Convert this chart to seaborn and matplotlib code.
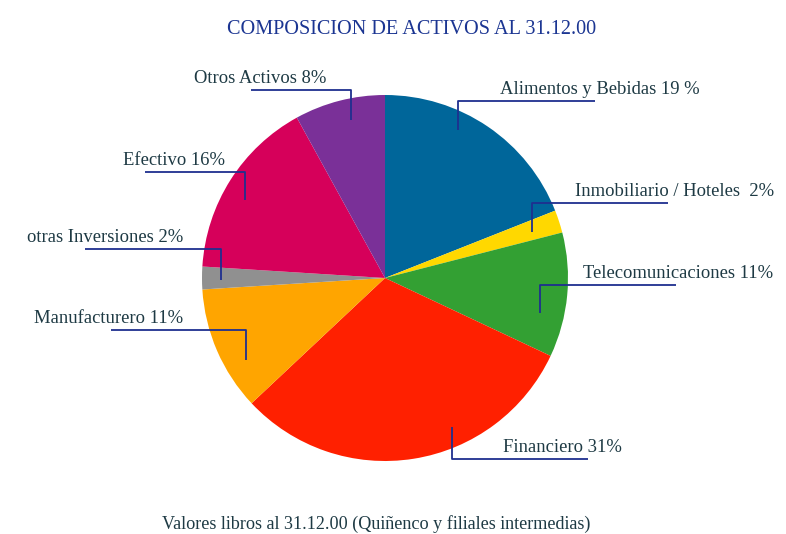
import matplotlib
matplotlib.use("Agg")
import matplotlib.pyplot as plt
import seaborn as sns

# ---- data ----
categories = ["Alimentos y Bebidas", "Inmobiliario / Hoteles", "Telecomunicaciones",
              "Financiero", "Manufacturero", "otras Inversiones", "Efectivo", "Otros Activos"]
values = [19, 2, 11, 31, 11, 2, 16, 8]
label_texts = ["Alimentos y Bebidas 19 %", "Inmobiliario / Hoteles  2%", "Telecomunicaciones 11%",
               "Financiero 31%", "Manufacturero 11%", "otras Inversiones 2%",
               "Efectivo 16%", "Otros Activos 8%"]
colors = ["#00669A", "#FFD800", "#33A033", "#FF2000", "#FFA500", "#909090", "#D6005A", "#7A3098"]

title = "COMPOSICION DE ACTIVOS AL 31.12.00"
footer = "Valores libros al 31.12.00 (Quiñenco y filiales intermedias)"

sns.set_theme(style="white")
plt.rcParams['font.family'] = ['Liberation Serif', 'DejaVu Serif']

W, H = 786, 534
fig = plt.figure(figsize=(W / 100, H / 100), dpi=100)
ax = fig.add_axes([0, 0, 1, 1])

cx, cy, R = 385, H - 278, 183
ax.pie(values, colors=colors, startangle=90, counterclock=False,
       center=(cx, cy), radius=R, wedgeprops=dict(linewidth=0))
ax.set_xlim(0, W)
ax.set_ylim(0, H)
ax.set_aspect('equal')
ax.axis('off')

# leader layout (pixel coords from top): anchor x, anchor y, elbow y, line end x, text x, text ha
layout = [
    (458, 130, 101, 595, 500, 'left'),
    (532, 232, 203, 668, 575, 'left'),
    (540, 313, 285, 676, 583, 'left'),
    (452, 427, 459, 588, 503, 'left'),
    (246, 360, 330, 111, 183, 'right'),
    (221, 280, 249, 85, 183, 'right'),
    (245, 200, 172, 145, 225, 'right'),
    (351, 120, 90, 251, 326, 'right'),
]
line_col = "#1F2F8F"
text_col = "#1E3A44"
for (axp, ayp, ey, lx, tx, ha), txt in zip(layout, label_texts):
    ax.plot([axp, axp, lx], [H - ayp, H - ey, H - ey], color=line_col, lw=1.3,
            solid_capstyle='butt')
    ax.text(tx, H - ey + 7, txt, ha=ha, va='baseline', fontsize=13.4, color=text_col)

ax.text(412, H - 29, title, ha='center', va='center', fontsize=14.6, color="#1B3592")
ax.text(376, H - 524, footer, ha='center', va='center', fontsize=13.1, color=text_col)

fig.savefig("out.png", dpi=100)
